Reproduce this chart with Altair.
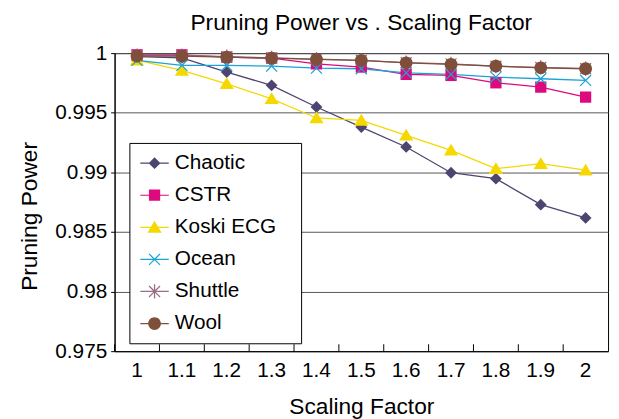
import altair as alt
import pandas as pd

# ---------------- data ----------------
scaling = ["1", "1.1", "1.2", "1.3", "1.4", "1.5", "1.6", "1.7", "1.8", "1.9", "2"]
series_names = ["Chaotic", "CSTR", "Koski ECG", "Ocean", "Shuttle", "Wool"]

chaotic = [0.9997, 0.9996, 0.99841, 0.9973, 0.99548, 0.9938, 0.99213, 0.98997, 0.98947, 0.98729, 0.98618]
cstr = [0.99986, 0.99986, 0.99966, 0.99958, 0.9991, 0.99883, 0.99822, 0.99813, 0.99751, 0.99715, 0.99631]
koski = [0.99941, 0.99855, 0.99743, 0.99617, 0.99456, 0.99436, 0.99311, 0.99185, 0.99031, 0.99073, 0.99018]
ocean = [0.99939, 0.99897, 0.99897, 0.99891, 0.99874, 0.99869, 0.99835, 0.99822, 0.99799, 0.99785, 0.99771]
shuttle = [0.9998, 0.9998, 0.9997, 0.9996, 0.9995, 0.9994, 0.9992, 0.9991, 0.9989, 0.9988, 0.9987]
wool = [0.99975, 0.99975, 0.99966, 0.99958, 0.99947, 0.99939, 0.99919, 0.99905, 0.99891, 0.99877, 0.99869]

y_ticks = [0.975, 0.98, 0.985, 0.99, 0.995, 1.0]

colors = ["#4e4470", "#dc0a7c", "#f5d800", "#1ba3d6", "#9a6d86", "#7e503c"]

# marker shapes (custom symbol paths)
diamond = "M0,-1L1,0L0,1L-1,0Z"
square = "M-0.95,-0.95H0.95V0.95H-0.95Z"
triangle = "M0,-1.1L1.2,0.9L-1.2,0.9Z"
xcross = "M-1,-0.85L-0.85,-1L0,-0.15L0.85,-1L1,-0.85L0.15,0L1,0.85L0.85,1L0,0.15L-0.85,1L-1,0.85L-0.15,0Z"
asterisk = xcross + "M-0.11,-1.2H0.11V1.2H-0.11Z"
circle = "M-1.08,0A1.08,1.08,0,1,1,1.08,0A1.08,1.08,0,1,1,-1.08,0Z"
bar = "M-2.4,-0.1H2.4V0.1H-2.4Z"
spacer = "M23,0L23,0"  # zero-area point that widens the legend box

marker_paths = [diamond, square, triangle, xcross, asterisk, circle]
legend_paths = [p + bar + spacer for p in marker_paths]

rows = []
for name, vals in zip(series_names, [chaotic, cstr, koski, ocean, shuttle, wool]):
    for sf, v in zip(scaling, vals):
        rows.append({"Series": name, "SF": sf, "Value": v})
df = pd.DataFrame(rows)
ticks_df = pd.DataFrame({"SF": scaling})

W, H = 500, 302
FONT = "Liberation Sans"

x_scale = alt.Scale(type="band", domain=scaling, paddingInner=0, paddingOuter=0)
y_scale = alt.Scale(domain=[0.975, 1.0], nice=False, zero=False)

x_enc = alt.X(
    "SF:N", scale=x_scale, sort=scaling, bandPosition=0.5,
    axis=alt.Axis(title="Scaling Factor", ticks=False, labelAngle=0, labelFontSize=21,
                  labelPadding=9, labelColor="black", domainColor="black",
                  titleFontSize=23, titleFontWeight="normal", titleColor="black",
                  titlePadding=15, grid=False),
)
y_enc = alt.Y(
    "Value:Q", scale=y_scale,
    axis=alt.Axis(title="Pruning Power", values=y_ticks, format=".3~f", grid=True,
                  gridColor="#555555", gridWidth=1, tickSize=4, tickColor="black",
                  domainColor="black", labelFontSize=21, labelPadding=4, labelColor="black",
                  titleFontSize=23, titleFontWeight="normal", titleColor="black",
                  titlePadding=14, titleY=165),
)

color_scale = alt.Scale(domain=series_names, range=colors)

lines = alt.Chart(df).mark_line(strokeWidth=1.3).encode(
    x=x_enc, y=y_enc,
    color=alt.Color("Series:N", scale=color_scale, legend=None),
    detail="Series:N",
)

points = alt.Chart(df).mark_point(filled=True, size=144, opacity=1, strokeWidth=0).encode(
    x=x_enc, y=y_enc,
    color=alt.Color("Series:N", scale=color_scale, legend=None),
    shape=alt.Shape("Series:N", scale=alt.Scale(domain=series_names, range=marker_paths), legend=None),
)

ticks = alt.Chart(ticks_df).mark_rule(color="black", strokeWidth=1).encode(
    x=alt.X("SF:N", scale=x_scale, sort=scaling, bandPosition=0),
    y=alt.value(H - 7),
    y2=alt.value(H),
)

leg = alt.Legend(
    orient="none", legendX=15, legendY=91, title=None,
    strokeColor="black", fillColor="white", padding=10, cornerRadius=0,
    labelFont=FONT, labelFontSize=21, labelColor="black",
    symbolSize=144, symbolStrokeWidth=0, rowPadding=10.5,
    symbolOffset=5, labelOffset=10,
)

legend_layer = alt.Chart(df).transform_filter("false").mark_point(
    filled=True, size=144, opacity=1, strokeWidth=0
).encode(
    x=alt.X("SF:N", scale=x_scale, sort=scaling, bandPosition=0.5),
    y=alt.Y("Value:Q", scale=y_scale),
    color=alt.Color("Series:N", scale=color_scale, legend=leg),
    shape=alt.Shape("Series:N", scale=alt.Scale(domain=series_names, range=legend_paths), legend=leg),
)

chart = alt.layer(lines, points, ticks, legend_layer).resolve_scale(
    color="independent", shape="independent"
).properties(
    width=W, height=H,
    title=alt.TitleParams("Pruning Power vs . Scaling Factor", fontSize=23, fontWeight="normal",
                          font=FONT, color="black", offset=7, anchor="middle", frame="group"),
    autosize=alt.AutoSizeParams(type="none"),
    padding={"left": 108, "top": 43, "right": 3, "bottom": 66},
).configure(font=FONT, background="white").configure_view(stroke="black", strokeWidth=1)

chart.save("out.html", embed_options={"renderer": "svg", "actions": False})
